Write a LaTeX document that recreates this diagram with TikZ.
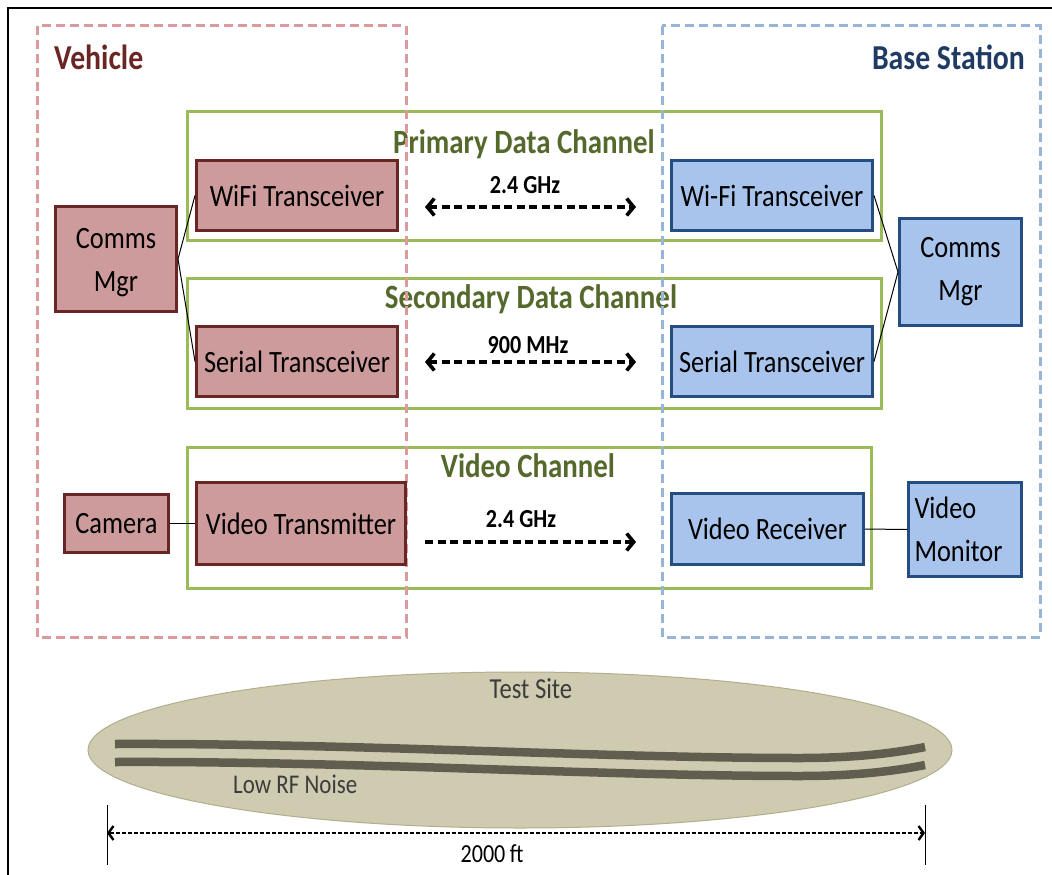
\documentclass[tikz,border=0pt]{standalone}
\usepackage{fontspec}
\setmainfont[FakeStretch=0.85]{Carlito}
\usetikzlibrary{arrows.meta,shapes.geometric}

\definecolor{vehfill}{HTML}{CD9B9B}
\definecolor{vehline}{HTML}{6A2624}
\definecolor{vehdash}{HTML}{DB9A9B}
\definecolor{vehtitle}{HTML}{6A2624}
\definecolor{basefill}{HTML}{A8C4EC}
\definecolor{baseline}{HTML}{244D82}
\definecolor{basedash}{HTML}{98B5D8}
\definecolor{basetitle}{HTML}{1F3B63}
\definecolor{chanline}{HTML}{9BBB59}
\definecolor{chantext}{HTML}{55692C}
\definecolor{sitefill}{HTML}{CFCBB1}
\definecolor{siteline}{HTML}{B3AD8E}
\definecolor{road}{HTML}{625E4F}
\definecolor{sitetext}{HTML}{3C3C3C}

\newcommand\fsz[2]{\fontsize{#1}{#2}\selectfont}

\tikzset{
  vbox/.style={draw=vehline, fill=vehfill, line width=3pt, inner sep=0pt,
               align=center, font=\fsz{31}{43}},
  bbox/.style={draw=baseline, fill=basefill, line width=3pt, inner sep=0pt,
               align=center, font=\fsz{31}{43}},
  chanbox/.style={draw=chanline, line width=3pt, inner sep=0pt},
  chantitle/.style={text=chantext, font=\fsz{34}{40}\bfseries, inner sep=0pt},
  zone/.style={line width=3pt, dash pattern=on 9pt off 5pt},
  freq/.style={font=\fsz{26}{30}\bfseries, inner sep=0pt},
  link/.style={line width=3.6pt, dash pattern=on 8pt off 4.5pt},
  tipA/.style={-{Straight Barb[length=7pt,width=17pt]}},
  tipB/.style={{Straight Barb[length=7pt,width=17pt]}-{Straight Barb[length=7pt,width=17pt]}},
  wire/.style={line width=1pt, black},
  roadline/.style={draw=road, line width=8.5pt},
}

\begin{document}
\begin{tikzpicture}[x=1pt, y=-1pt]
\useasboundingbox (0,0) rectangle (1052,875);
\fill[white] (0,0) rectangle (1052,875);

% outer frame (left and top edges)
\draw[line width=2pt] (8,875) -- (8,8) -- (1052,8);

% radio channels
\node[chanbox, minimum width=694, minimum height=129] (primary) at (534.5,176) {};
\node[chanbox, minimum width=694, minimum height=130] (secondary) at (534.5,343.5) {};
\node[chanbox, minimum width=684, minimum height=141] (video) at (529.5,518) {};
\node[chantitle, anchor=base] (primaryT) at (524,153) {Primary Data Channel};
\node[chantitle, anchor=base] (secondaryT) at (531,308) {Secondary Data Channel};
\node[chantitle, anchor=base] (videoT) at (528,477) {Video Channel};

% vehicle and base station zones
\draw[zone, draw=vehdash] (37,26) rectangle (406,637);
\draw[zone, draw=basedash] (662,26) rectangle (1040,637);
\node[anchor=base west, inner sep=0pt, text=vehtitle, font=\fsz{35}{40}\bfseries] (vehT) at (54,70) {Vehicle};
\node[anchor=base east, inner sep=0pt, text=basetitle, font=\fsz{35}{40}\bfseries] (baseT) at (1025,70) {Base Station};

% vehicle side
\node[vbox, minimum width=201, minimum height=70] (vwifi) at (297,195.5) {WiFi Transceiver};
\node[vbox, minimum width=121, minimum height=105] (vcomms) at (116,259) {};
\node[font=\fsz{31}{43}, align=center, inner sep=0pt] (vcommsT) at (116,263) {Comms\\Mgr};
\node[vbox, minimum width=201, minimum height=70] (vserial) at (297,361.5) {Serial Transceiver};
\node[vbox, minimum width=104, minimum height=58] (camera) at (116.5,523.5) {Camera};
\node[vbox, minimum width=209, minimum height=82] (vtx) at (301,523.5) {Video Transmitter};

% base station side
\node[bbox, minimum width=201, minimum height=70] (bwifi) at (772,195.5) {Wi-Fi Transceiver};
\node[bbox, minimum width=122, minimum height=107] (bcomms) at (960.5,272) {Comms\\Mgr};
\node[bbox, minimum width=201, minimum height=70] (bserial) at (772,361.5) {Serial Transceiver};
\node[bbox, minimum width=192, minimum height=71] (brx) at (767.5,529) {Video Receiver};
\node[bbox, align=left, text width=101, inner xsep=6pt, minimum height=94] (monitor) at (965,529.5) {Video\\Monitor};

% wiring
\draw[wire] (vcomms.east) -- (vwifi.west);
\draw[wire] (vcomms.east) -- (vserial.west);
\draw[wire] (camera.east) -- (vtx.west);
\draw[wire] (bwifi.east) -- (bcomms.west);
\draw[wire] (bserial.east) -- (bcomms.west);
\draw[wire] (brx.east) -- (monitor.west);

% radio links
\coordinate (l1a) at (425,207); \coordinate (l1b) at (636,207);
\coordinate (l2a) at (425,362); \coordinate (l2b) at (636,362);
\coordinate (l3a) at (425,542); \coordinate (l3b) at (636,542);
\draw[link, tipB] (l1a) -- (l1b);
\draw[link, tipB] (l2a) -- (l2b);
\draw[link, tipA] (l3a) -- (l3b);
\node[freq, anchor=base] (f1) at (525,193) {2.4 GHz};
\node[freq, anchor=base] (f2) at (528,353) {900 MHz};
\node[freq, anchor=base] (f3) at (521,527) {2.4 GHz};

% test site
\node[ellipse, draw=siteline, fill=sitefill, line width=1pt,
      minimum width=864, minimum height=156] (site) at (520,750) {};
\draw[roadline] (115,744) .. controls (350,743) and (600,758) .. (800,758)
                          .. controls (860,758) and (900,752) .. (925,747);
\draw[roadline] (115,762) .. controls (350,761) and (600,776) .. (800,776)
                          .. controls (860,776) and (900,770) .. (925,765);
\node[anchor=base, inner sep=0pt, text=sitetext, font=\fsz{29}{34}] (siteT) at (531,698) {Test Site};
\node[anchor=base west, inner sep=0pt, text=sitetext, font=\fsz{27}{32}] (noiseT) at (233,793) {Low RF Noise};

% site length
\coordinate (dimL) at (107,833);
\coordinate (dimR) at (925,833);
\draw[line width=1pt] (107,805) -- (107,865);
\draw[line width=1pt] (925,805) -- (925,865);
\draw[line width=2.4pt, dash pattern=on 4pt off 2pt,
      {Straight Barb[length=5pt,width=14pt]}-{Straight Barb[length=5pt,width=14pt]}] (dimL) -- (dimR);
\node[anchor=base, inner sep=0pt, font=\fsz{26}{30}] (lenT) at (492,862) {2000\,ft};
\end{tikzpicture}
\end{document}
